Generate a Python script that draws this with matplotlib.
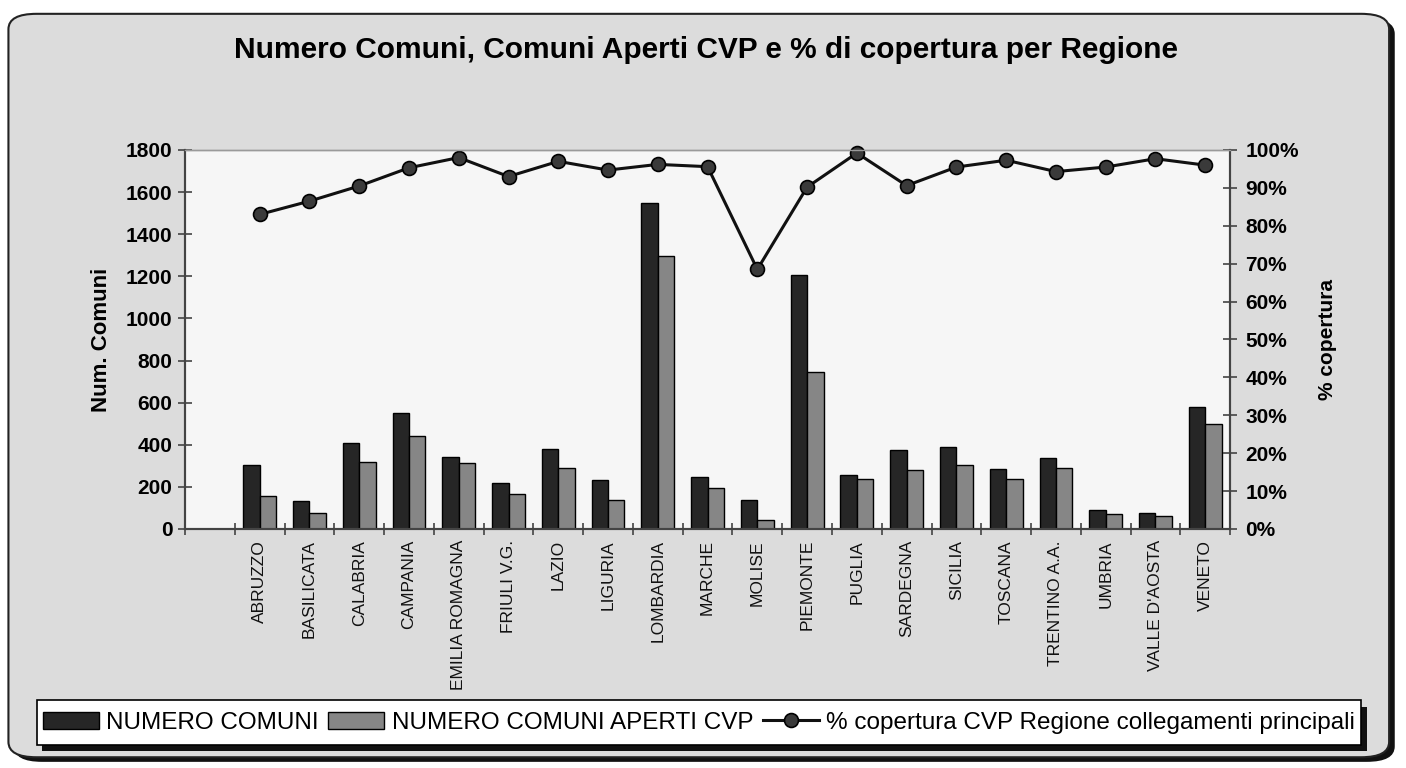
import matplotlib

matplotlib.use("Agg")

import matplotlib.pyplot as plt
import numpy as np
from matplotlib.patches import FancyBboxPatch, Rectangle
from matplotlib.ticker import FuncFormatter, FixedLocator

plt.rcParams["font.family"] = ["Liberation Sans", "DejaVu Sans"]

# --- data ---
regioni = [
    "ABRUZZO", "BASILICATA", "CALABRIA", "CAMPANIA", "EMILIA ROMAGNA",
    "FRIULI V.G.", "LAZIO", "LIGURIA", "LOMBARDIA", "MARCHE", "MOLISE",
    "PIEMONTE", "PUGLIA", "SARDEGNA", "SICILIA", "TOSCANA", "TRENTINO A.A.",
    "UMBRIA", "VALLE D'AOSTA", "VENETO",
]
numero_comuni = [305, 131, 409, 551, 341, 219, 378, 235, 1546, 246, 136,
                 1206, 258, 377, 390, 287, 339, 92, 74, 581]
comuni_aperti_cvp = [155, 78, 318, 443, 315, 164, 288, 140, 1296, 197, 42,
                     745, 238, 280, 302, 238, 292, 70, 61, 498]
perc_copertura = [0.83, 0.865, 0.905, 0.953, 0.98, 0.93, 0.97, 0.947,
                  0.962, 0.956, 0.685, 0.902, 0.992, 0.906, 0.955, 0.973,
                  0.943, 0.955, 0.977, 0.96]
y_left_ticks = list(range(0, 1801, 200))
y_right_ticks = [i / 10 for i in range(11)]

DARK = "#262626"
MID = "#868686"
BG = "#dcdcdc"

fig = plt.figure(figsize=(14.06, 7.68), dpi=100)
fig.patch.set_facecolor("white")

# rounded scanned frame with a shadow on right/bottom
shadow = FancyBboxPatch((0.010, 0.008), 0.982, 0.968,
                        boxstyle="round,pad=0,rounding_size=0.02",
                        transform=fig.transFigure, facecolor="#111111",
                        edgecolor="none", zorder=-3)
frame = FancyBboxPatch((0.006, 0.014), 0.982, 0.968,
                       boxstyle="round,pad=0,rounding_size=0.02",
                       transform=fig.transFigure, facecolor=BG,
                       edgecolor="#222222", linewidth=1.5, zorder=-2)
fig.patches.extend([shadow, frame])

ax = fig.add_axes([0.1316, 0.3112, 0.7433, 0.4935])
ax.set_facecolor("#f6f6f6")
ax2 = ax.twinx()
ax.set_zorder(2)
ax2.set_zorder(3)

x = np.arange(1, len(regioni) + 1)
w = 0.33
b1 = ax.bar(x - w / 2, numero_comuni, width=w, color=DARK, edgecolor="black",
            linewidth=1.0, label="NUMERO COMUNI", zorder=2)
b2 = ax.bar(x + w / 2, comuni_aperti_cvp, width=w, color=MID,
            edgecolor="black", linewidth=1.0,
            label="NUMERO COMUNI APERTI CVP", zorder=2)
ln, = ax2.plot(x, perc_copertura, color="#111111", linewidth=2.2,
               marker="o", markersize=10, markerfacecolor="#3a3a3a",
               markeredgecolor="black", markeredgewidth=1.2, clip_on=False,
               label="% copertura CVP Regione collegamenti principali")

ax.set_xlim(-0.5, len(regioni) + 0.5)
ax.set_ylim(0, 1800)
ax2.set_ylim(0, 1)

ax.set_yticks(y_left_ticks)
ax2.set_yticks(y_right_ticks)
ax2.yaxis.set_major_formatter(FuncFormatter(lambda v, p: f"{v * 100:.0f}%"))

# category boundaries as ticks, labels at the centres
ax.xaxis.set_major_locator(FixedLocator(np.arange(-0.5, len(regioni) + 1, 1)))
ax.xaxis.set_minor_locator(FixedLocator(x))
ax.set_xticklabels([], minor=False)
ax.set_xticklabels(regioni, minor=True, rotation=90, fontsize=12.5,
                   color="#111111")
ax.tick_params(axis="x", which="major", direction="inout", length=9,
               width=1.2, color="#444444")
ax.tick_params(axis="x", which="minor", length=0, pad=8)

for a in (ax, ax2):
    a.tick_params(axis="y", direction="inout", length=10, width=1.2,
                  color="#444444", labelsize=15)
    for lab in a.get_yticklabels():
        lab.set_fontweight("bold")
    for s in a.spines.values():
        s.set_color("#444444")
        s.set_linewidth(1.5)
    a.spines["top"].set_color("#9a9a9a")
    a.spines["top"].set_linewidth(1.0)
ax.tick_params(axis="y", pad=4)
ax2.tick_params(axis="y", pad=6)

ax.set_ylabel("Num. Comuni", fontsize=16, fontweight="bold", labelpad=10)
ax2.set_ylabel("% copertura", fontsize=15, fontweight="bold", labelpad=14,
               rotation=90)

fig.text(0.502, 0.935, "Numero Comuni, Comuni Aperti CVP e % di copertura per Regione",
         ha="center", va="center", fontsize=21.5, fontweight="bold")

# legend box with drop shadow
fig.patches.append(Rectangle((0.030, 0.022), 0.942, 0.058,
                             transform=fig.transFigure, facecolor="#111111",
                             edgecolor="none", zorder=1))
fig.patches.append(Rectangle((0.026, 0.030), 0.942, 0.058,
                             transform=fig.transFigure, facecolor="white",
                             edgecolor="black", linewidth=1.2, zorder=1.5))
leg = fig.legend(handles=[b1, b2, ln], loc="center", ncol=3,
                 bbox_to_anchor=(0.497, 0.059), frameon=False,
                 fontsize=17.5, handlelength=2.3, handleheight=0.7,
                 handletextpad=0.3, columnspacing=0.4)

fig.savefig("out.png", dpi=100, facecolor=fig.get_facecolor())
